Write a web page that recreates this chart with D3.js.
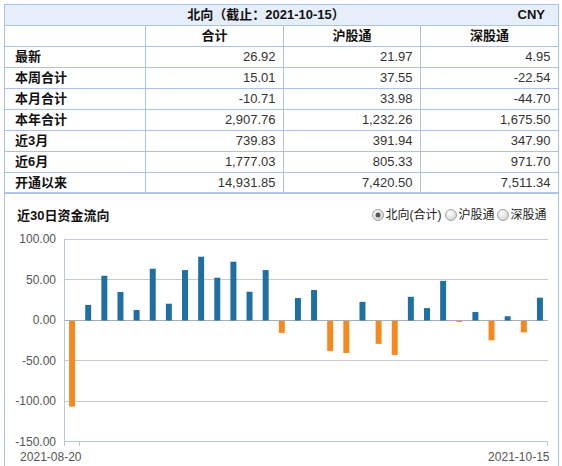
<!DOCTYPE html>
<html><head><meta charset="utf-8">
<script src="https://cdn.jsdelivr.net/npm/d3@7/dist/d3.min.js"></script>
<style>
body{margin:0;background:#fff;}
svg{display:block;font-family:"Liberation Sans","Noto Sans CJK SC",sans-serif;}
</style></head>
<body><svg id="c" width="562" height="466"></svg>
<script>
// ---- table data ----
const tableTitle = "北向（截止：2021-10-15）";
const currency = "CNY";
const columns = ["合计", "沪股通", "深股通"];
const rowLabels = ["最新", "本周合计", "本月合计", "本年合计", "近3月", "近6月", "开通以来"];
const totalValues = [26.92, 15.01, -10.71, 2907.76, 739.83, 1777.03, 14931.85];
const shValues = [21.97, 37.55, 33.98, 1232.26, 391.94, 805.33, 7420.50];
const szValues = [4.95, -22.54, -44.70, 1675.50, 347.90, 971.70, 7511.34];

// ---- chart data ----
const chartTitle = "近30日资金流向";
const radioLabels = ["北向(合计)", "沪股通", "深股通"];
const dates = ["2021-08-20","2021-08-23","2021-08-24","2021-08-25","2021-08-26","2021-08-27","2021-08-30","2021-08-31",
  "2021-09-01","2021-09-02","2021-09-03","2021-09-06","2021-09-07","2021-09-08","2021-09-09","2021-09-10",
  "2021-09-13","2021-09-14","2021-09-15","2021-09-16","2021-09-17","2021-09-23","2021-09-24","2021-09-27",
  "2021-09-28","2021-09-29","2021-10-08","2021-10-11","2021-10-12","2021-10-15"];
const flows = [-107.5, 18.0, 54.0, 34.0, 11.7, 62.7, 19.5, 61.0, 77.5, 51.6,
  71.4, 34.3, 61.0, -16.5, 26.5, 36.4, -38.8, -41.3, 21.8, -30.1,
  -43.7, 28.0, 14.1, 47.7, -3.1, 9.2, -25.72, 4.0, -15.91, 26.92];
const yTicks = [100, 50, 0, -50, -100, -150];
const xTickLabels = [dates[0], dates[dates.length - 1]];

const loc = d3.formatLocale({decimal: ".", thousands: ",", grouping: [3], currency: ["", ""], minus: "-"});
const fmt = loc.format(",.2f");

const svg = d3.select("#c");
const lineCol = "#a9c2e6";

// ---- table ----
const tX = [4.5, 145.5, 283.5, 420.5, 558.5];
const tTop = 4.5, headH = 20.5, rowH = 20.95;
const rowsTop = tTop + headH;
const nRows = rowLabels.length + 1;
const tBottom = rowsTop + nRows * rowH;
const colRows = rowLabels.map((l, i) => ({label: l, vals: [totalValues[i], shValues[i], szValues[i]]}));

svg.append("rect").attr("x", tX[0]).attr("y", tTop).attr("width", tX[4] - tX[0]).attr("height", headH)
  .attr("fill", "#e6eef9");
const tg = svg.append("g").attr("stroke", lineCol).attr("stroke-width", 1);
tg.append("rect").attr("x", tX[0]).attr("y", tTop).attr("width", tX[4] - tX[0]).attr("height", tBottom - tTop).attr("fill", "none");
d3.range(nRows + 1).forEach(i => {
  const y = Math.round(rowsTop + i * rowH) + 0.5;
  tg.append("line").attr("x1", tX[0]).attr("x2", tX[4]).attr("y1", y).attr("y2", y);
});
[1, 2, 3].forEach(i => tg.append("line").attr("x1", tX[i]).attr("x2", tX[i]).attr("y1", rowsTop).attr("y2", tBottom));

svg.append("text").attr("x", 266).attr("y", tTop + headH / 2).attr("dy", "0.36em").attr("text-anchor", "middle")
  .attr("font-size", 13).attr("font-weight", "bold").attr("fill", "#111").text(tableTitle);
svg.append("text").attr("x", 545).attr("y", tTop + headH / 2).attr("dy", "0.36em").attr("text-anchor", "end")
  .attr("font-size", 13).attr("font-weight", "bold").attr("fill", "#111").text(currency);

columns.forEach((c, i) => {
  svg.append("text").attr("x", (tX[i + 1] + tX[i + 2]) / 2).attr("y", rowsTop + rowH / 2).attr("dy", "0.36em")
    .attr("text-anchor", "middle").attr("font-size", 13).attr("font-weight", "bold").attr("fill", "#111").text(c);
});
colRows.forEach((r, i) => {
  const cy = rowsTop + (i + 1.5) * rowH;
  svg.append("text").attr("x", 15).attr("y", cy).attr("dy", "0.36em").attr("font-size", 13)
    .attr("font-weight", "bold").attr("fill", "#111").text(r.label);
  r.vals.forEach((v, j) => {
    svg.append("text").attr("x", tX[j + 2] - 8).attr("y", cy).attr("dy", "0.36em").attr("text-anchor", "end")
      .attr("font-size", 13).attr("fill", "#333").text(fmt(v));
  });
});

// ---- chart panel ----
svg.append("line").attr("x1", tX[0]).attr("x2", tX[0]).attr("y1", tBottom).attr("y2", 466).attr("stroke", lineCol);
svg.append("line").attr("x1", tX[4]).attr("x2", tX[4]).attr("y1", tBottom).attr("y2", 466).attr("stroke", lineCol);

svg.append("text").attr("x", 17).attr("y", 215).attr("dy", "0.36em").attr("font-size", 13)
  .attr("font-weight", "bold").attr("fill", "#111").text(chartTitle);

// radios
const defs = svg.append("defs");
const grad = defs.append("radialGradient").attr("id", "rg").attr("cx", "40%").attr("cy", "35%").attr("r", "70%");
grad.append("stop").attr("offset", "0%").attr("stop-color", "#ffffff");
grad.append("stop").attr("offset", "100%").attr("stop-color", "#cfcfcf");
const radioX = [378, 451, 503];
radioLabels.forEach((l, i) => {
  svg.append("circle").attr("cx", radioX[i]).attr("cy", 215).attr("r", 5.5).attr("fill", "url(#rg)")
    .attr("stroke", "#a5a5a5");
  if (i === 0) svg.append("circle").attr("cx", radioX[i]).attr("cy", 215).attr("r", 2.5).attr("fill", "#555");
  svg.append("text").attr("x", radioX[i] + 7.5).attr("y", 215).attr("dy", "0.36em").attr("font-size", 12)
    .attr("fill", "#222").text(l);
});

// scales
const x = d3.scaleBand().domain(dates).range([64, 548]).padding(0);
const y = d3.scaleLinear().domain([-150, 100]).range([441, 238.5]);
const bw = x.bandwidth();
const barW = bw * 0.37;

const gridG = svg.append("g");
yTicks.forEach(t => {
  const yy = Math.round(y(t)) + 0.5;
  gridG.append("line").attr("x1", 64).attr("x2", 548).attr("y1", yy).attr("y2", yy)
    .attr("stroke", t === -150 ? "#b9c7da" : (t === 0 ? "#a8adb5" : "#c5cad2")).attr("stroke-width", 1);
});
// left axis line
svg.append("line").attr("x1", 64.5).attr("x2", 64.5).attr("y1", y(100)).attr("y2", y(-150) + 5)
  .attr("stroke", "#b9c7da");

const yAxis = d3.axisLeft(y).tickValues(yTicks).tickFormat(fmt).tickSize(0).tickPadding(0);
const ya = svg.append("g").attr("transform", "translate(56,0)").call(yAxis);
ya.select(".domain").remove();
ya.selectAll("text").attr("font-size", 12).attr("fill", "#555")
  .attr("font-family", "Liberation Sans, sans-serif").attr("dy", "0.36em");

// bars
svg.append("g").selectAll("rect").data(flows).join("rect")
  .attr("x", (d, i) => x(dates[i]) + (bw - barW) / 2)
  .attr("width", barW)
  .attr("y", d => d >= 0 ? y(d) : Math.round(y(0)) + 1)
  .attr("height", d => d >= 0 ? Math.round(y(0)) + 0.5 - y(d) : y(d) - Math.round(y(0)) - 1)
  .attr("fill", d => d >= 0 ? "#1f70a2" : "#f5891f");

// x ticks and labels (at band end)
xTickLabels.forEach(d => {
  const xx = Math.round(x(d) + bw) - 0.5;
  svg.append("line").attr("x1", xx).attr("x2", xx).attr("y1", y(-150)).attr("y2", y(-150) + 5).attr("stroke", "#b9c7da");
  svg.append("text").attr("x", xx + 2).attr("y", 456.5).attr("dy", "0.36em").attr("text-anchor", "end")
    .attr("font-size", 12).attr("fill", "#555").text(d);
});
</script></body></html>
